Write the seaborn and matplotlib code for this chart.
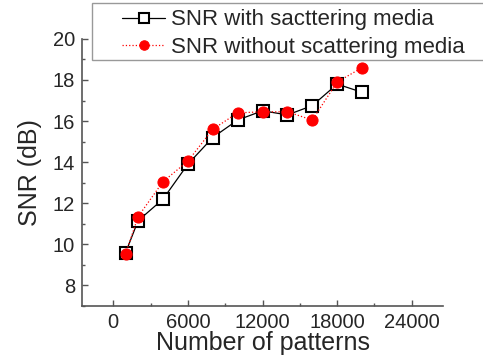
import numpy as np
import pandas as pd
import matplotlib
matplotlib.use("Agg")
import matplotlib.pyplot as plt
import seaborn as sns
from matplotlib.ticker import MultipleLocator
from matplotlib.patches import Rectangle

patterns = [1000, 2000, 4000, 6000, 8000, 10000, 12000, 14000, 16000, 18000, 20000]
snr_with = [9.6, 11.15, 12.2, 13.9, 15.2, 16.05, 16.5, 16.3, 16.75, 17.8, 17.4]
snr_without = [9.55, 11.35, 13.05, 14.05, 15.6, 16.4, 16.45, 16.45, 16.05, 17.9, 18.6]

df = pd.DataFrame({'patterns': patterns, 'with': snr_with, 'without': snr_without})

sns.set_style("ticks")
plt.rcParams['font.family'] = ['Liberation Sans', 'DejaVu Sans']

fig = plt.figure(figsize=(4.83, 3.6), dpi=100)
ax = fig.add_axes([0.17, 0.15, 0.747, 0.742])

sns.lineplot(data=df, x='patterns', y='with', ax=ax, color='black', lw=0.9,
             marker='s', markersize=8.5, markerfacecolor='white',
             markeredgecolor='black', markeredgewidth=1.5,
             label='SNR with sacttering media')
sns.lineplot(data=df, x='patterns', y='without', ax=ax, color='red', lw=0.9,
             linestyle=':', marker='o', markersize=8, markerfacecolor='red',
             markeredgecolor='red', label='SNR without scattering media')

ax.set_xlim(-2500, 26500)
ax.set_ylim(7, 20)
ax.xaxis.set_major_locator(MultipleLocator(6000))
ax.xaxis.set_minor_locator(MultipleLocator(3000))
ax.yaxis.set_minor_locator(MultipleLocator(1))
ax.set_yticks([8, 10, 12, 14, 16, 18, 20])
ax.tick_params(which='both', direction='in', labelsize=14.5, width=1, color='#555555')
ax.tick_params(which='major', length=4)
ax.tick_params(which='minor', length=2.5)
ax.tick_params(axis='x', pad=5)
ax.tick_params(axis='y', pad=5)
for s in ['top', 'right']:
    ax.spines[s].set_visible(False)
for s in ['left', 'bottom']:
    ax.spines[s].set_color('#555555')
    ax.spines[s].set_linewidth(1.2)

ax.set_xlabel('Number of patterns', fontsize=18, labelpad=-1)
ax.set_ylabel('SNR (dB)', fontsize=18, labelpad=8)

# legend box drawn separately: it sits partly above the axes
box = Rectangle((92 / 483, 1 - 60 / 360), 1.0, 57 / 360,
                transform=fig.transFigure, facecolor='white',
                edgecolor='#999999', lw=1.0, zorder=4.5, clip_on=False)
ax.add_artist(box)
leg = ax.legend(loc='upper left', bbox_to_anchor=(118 / 483, 1 - 5 / 360),
                bbox_transform=fig.transFigure, fontsize=16, frameon=False,
                handlelength=1.9, handletextpad=0.3, borderpad=0.2,
                borderaxespad=0, labelspacing=0.3, markerscale=0.85)
leg.set_zorder(6)

fig.savefig('out.png', dpi=100)
